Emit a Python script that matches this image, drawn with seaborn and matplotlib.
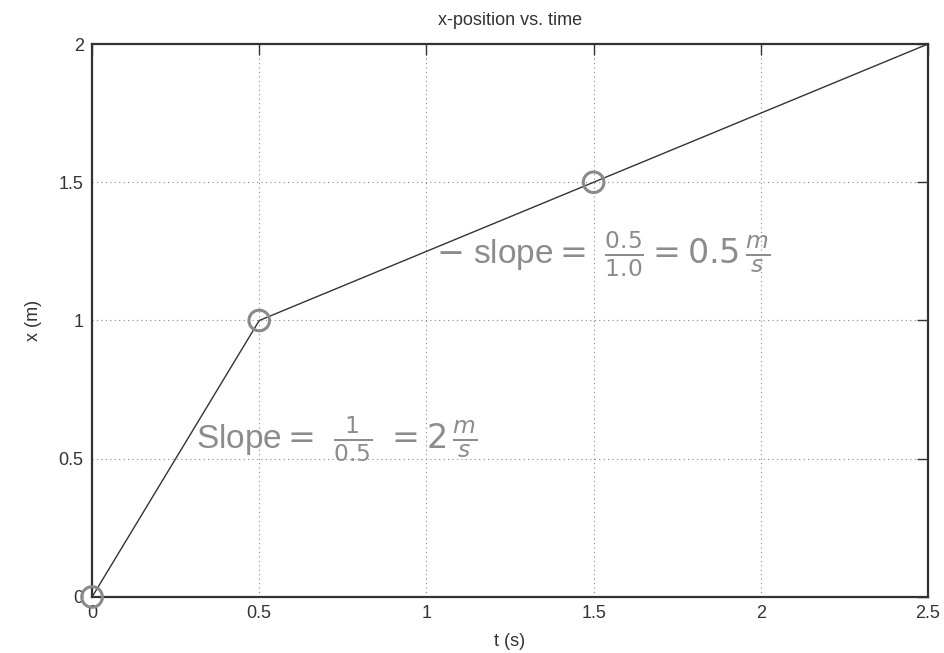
import matplotlib
matplotlib.use("Agg")
import matplotlib.pyplot as plt
import pandas as pd
import seaborn as sns
from matplotlib.ticker import FuncFormatter

# plotted trajectory
time_s = [0.0, 0.5, 1.5, 2.5]
position_m = [0.0, 1.0, 1.5, 2.0]

# hand-circled points
circled_t = [0.0, 0.5, 1.5]
circled_x = [0.0, 1.0, 1.5]

x_ticks = [0, 0.5, 1, 1.5, 2, 2.5]
y_ticks = [0, 0.5, 1, 1.5, 2]

notes = [
    (0.31, 0.57, r"Slope$=\ \frac{1}{0.5}\ =2\,\frac{m}{s}$"),
    (1.03, 1.24, r"$-$ slope$=\ \frac{0.5}{1.0}=0.5\,\frac{m}{s}$"),
]

sns.set_theme(style="white")
plt.rcParams["font.family"] = ["Liberation Sans Narrow", "Liberation Sans", "DejaVu Sans"]

fig = plt.figure(figsize=(9.45, 6.53), dpi=100)
ax = fig.add_axes([0.0974, 0.0858, 0.8846, 0.8468])

df = pd.DataFrame({"t": time_s, "x": position_m})
sns.lineplot(data=df, x="t", y="x", sort=False, estimator=None,
             color="#333333", linewidth=1.0, ax=ax)

circ = pd.DataFrame({"t": circled_t, "x": circled_x})
sns.scatterplot(data=circ, x="t", y="x", marker="o", s=220,
                facecolors="none", edgecolor="#8a8a8a", linewidth=2.2,
                ax=ax, clip_on=False, zorder=5)

for tx, ty, s in notes:
    ax.text(tx, ty, s, color="#8c8c8c", fontsize=24, va="center", ha="left")

ax.set_xlim(0, 2.5)
ax.set_ylim(0, 2)
ax.set_xticks(x_ticks)
ax.set_yticks(y_ticks)
fmt = FuncFormatter(lambda v, p: f"{v:g}")
ax.xaxis.set_major_formatter(fmt)
ax.yaxis.set_major_formatter(fmt)
ax.tick_params(direction="in", top=True, right=True, length=8, width=1,
               color="#333333", labelsize=13, labelcolor="#333333", pad=6)
ax.grid(True, linestyle=(0, (1, 3)), color="#888888", linewidth=0.8)
for sp in ax.spines.values():
    sp.set_color("#333333")
    sp.set_linewidth(1.6)

ax.set_xlabel("t (s)", fontsize=13, color="#333333", labelpad=8)
ax.set_ylabel("x (m)", fontsize=13, color="#333333", labelpad=12)
ax.set_title("x-position vs. time", fontsize=13, color="#333333", pad=14)

fig.savefig("out.png", dpi=100)
